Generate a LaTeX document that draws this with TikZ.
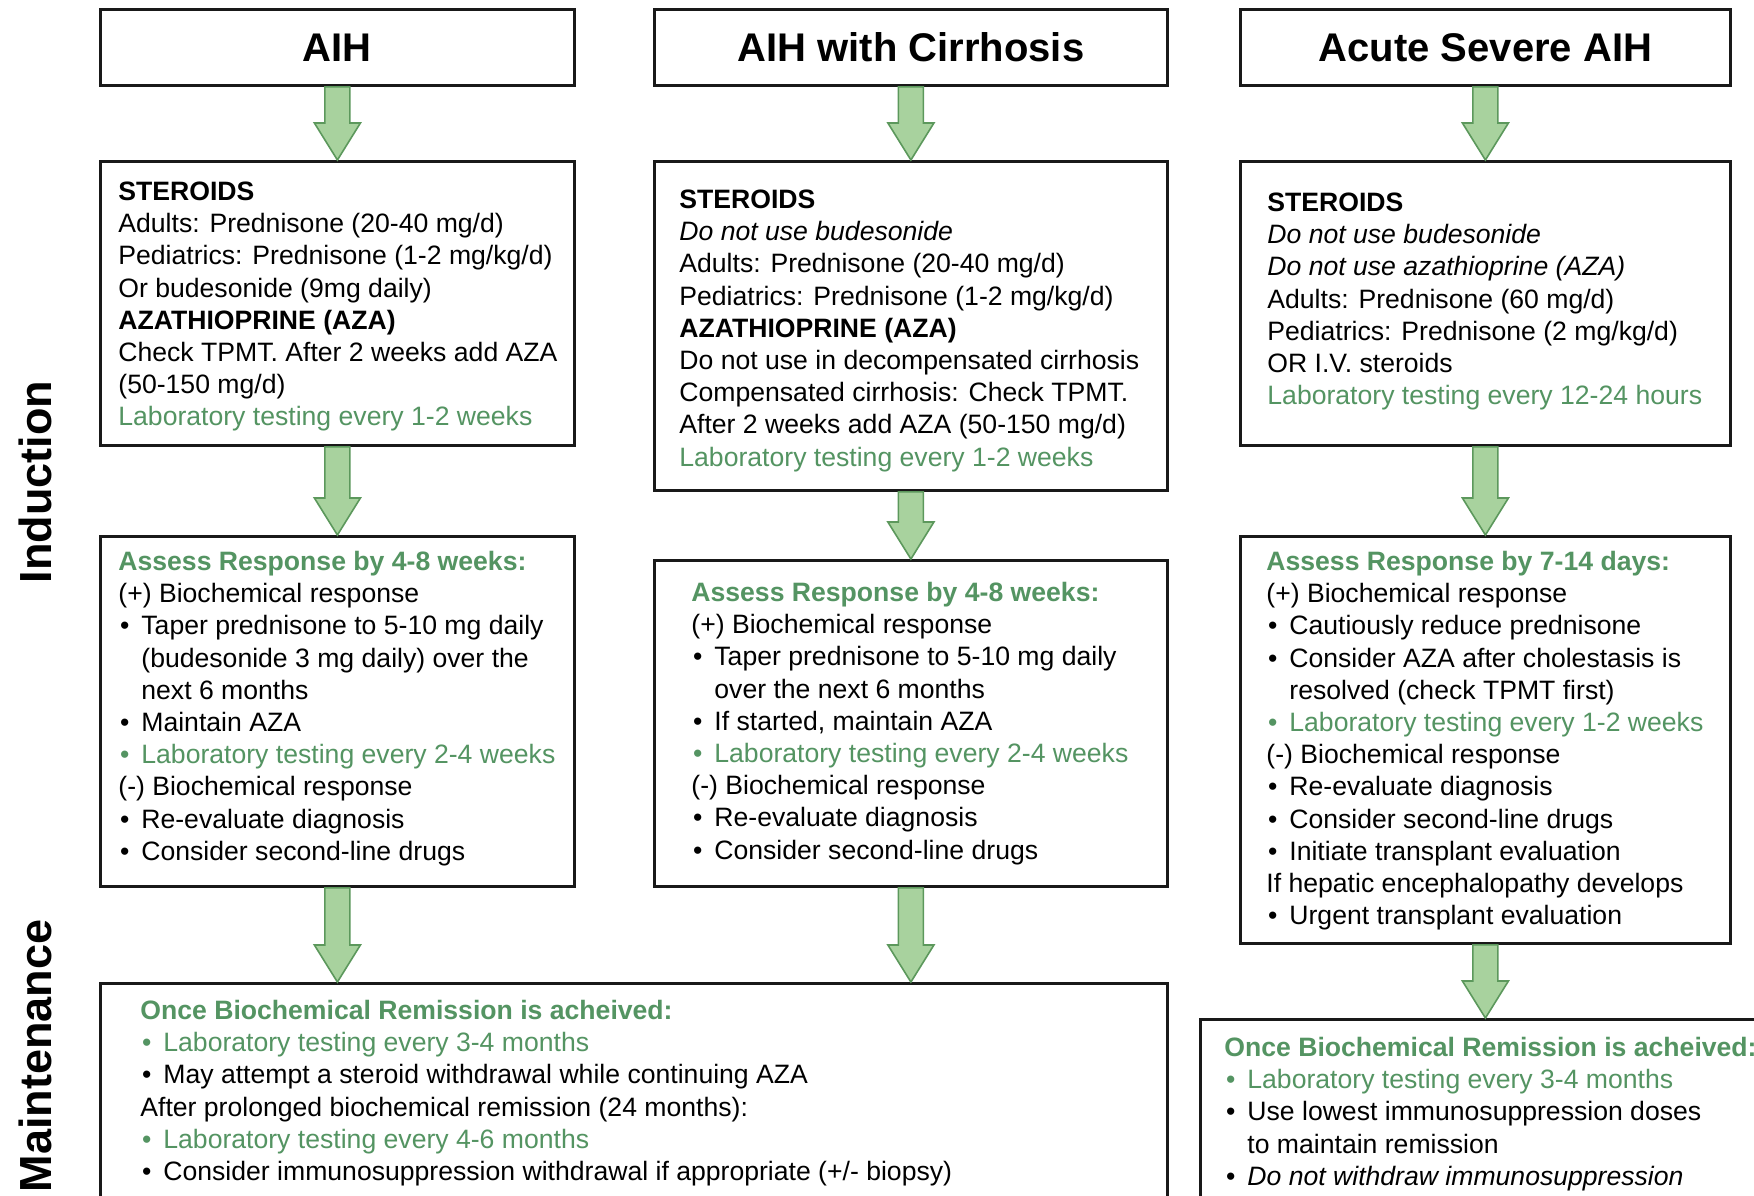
\documentclass[tikz,border=0pt]{standalone}
\usepackage{fontspec}
\setmainfont{Liberation Sans}
\usetikzlibrary{calc}
\definecolor{grtext}{RGB}{84,148,98}
\definecolor{arrfill}{RGB}{168,210,158}
\definecolor{arrdraw}{RGB}{92,152,92}
\definecolor{boxline}{RGB}{25,25,25}
\newcommand{\gr}[1]{\textcolor{grtext}{#1}}
\newcommand{\gb}[1]{\textcolor{grtext}{\bfseries #1}}
\newcommand{\bu}{\makebox[11.5pt][l]{\hspace{0.8pt}\textbullet}}
\newcommand{\ind}{\hspace*{11.5pt}}
\newcommand{\bxt}[5]{\parbox[t][#2][t]{#1}{\fontsize{13.3}{16.1}\selectfont\raggedright\leftskip=#3\relax\rightskip=-30pt plus 1fil\relax\rule{0pt}{#4}#5}}
\newcommand{\barrow}[2]{\filldraw[arr] let \p1=(#1.south), \p2=(#1.south |- #2.north) in
  (\x1-6.25pt,\y1) -- (\x1+6.25pt,\y1) -- (\x1+6.25pt,\y2+18.5pt) -- (\x1+11.5pt,\y2+18.5pt)
  -- (\x1,\y2) -- (\x1-11.5pt,\y2+18.5pt) -- (\x1-6.25pt,\y2+18.5pt) -- cycle;}
\begin{document}
\begin{tikzpicture}[x=0.5pt,y=-0.5pt,
  title/.style={draw=boxline, line width=1.4pt, fill=white, anchor=north west, inner sep=0pt,
    minimum height=38pt, font=\fontsize{20}{24}\selectfont\bfseries},
  bx/.style={draw=boxline, line width=1.4pt, fill=white, anchor=north west, inner sep=0pt},
  arr/.style={fill=arrfill, draw=arrdraw, line width=0.8pt, line join=miter},
  lab/.style={rotate=90, inner sep=0pt, font=\fontsize{22.5}{27}\selectfont\bfseries}]
\useasboundingbox (0,0) rectangle (1754,1195);
\clip (0,0) rectangle (1754,1195);
\fill[white] (0,0) rectangle (1754,1195);

\node[lab] (ind) at (35,482) {Induction};
\node[lab] (mnt) at (35,1056) {Maintenance};

\node[title, minimum width=237pt] (t1) at (99,8) {AIH};
\node[title, minimum width=256.5pt] (t2) at (653,8) {AIH with Cirrhosis};
\node[title, minimum width=245pt] (t3) at (1239,8) {Acute Severe AIH};

\node[bx] (s1) at (99,160) {\bxt{237pt}{142pt}{9pt}{19.5pt}{%
\textbf{STEROIDS}\\
Adults: Prednisone (20-40 mg/d)\\
Pediatrics: Prednisone (1-2 mg/kg/d)\\
Or budesonide (9mg daily)\\
\textbf{AZATHIOPRINE (AZA)}\\
Check TPMT. After 2 weeks add AZA\\
(50-150 mg/d)\\
\gr{Laboratory testing every 1-2 weeks}}};

\node[bx] (s2) at (653,160) {\bxt{256.5pt}{164.5pt}{12.5pt}{23.5pt}{%
\textbf{STEROIDS}\\
\textit{Do not use budesonide}\\
Adults: Prednisone (20-40 mg/d)\\
Pediatrics: Prednisone (1-2 mg/kg/d)\\
\textbf{AZATHIOPRINE (AZA)}\\
Do not use in decompensated cirrhosis\\
Compensated cirrhosis: Check TPMT.\\
After 2 weeks add AZA (50-150 mg/d)\\
\gr{Laboratory testing every 1-2 weeks}}};

\node[bx] (s3) at (1239,160) {\bxt{245pt}{142pt}{13.5pt}{25pt}{%
\textbf{STEROIDS}\\
\textit{Do not use budesonide}\\
\textit{Do not use azathioprine (AZA)}\\
Adults: Prednisone (60 mg/d)\\
Pediatrics: Prednisone (2 mg/kg/d)\\
OR I.V. steroids\\
\gr{Laboratory testing every 12-24 hours}}};

\node[bx] (a1) at (99,535) {\bxt{237pt}{175pt}{9pt}{17pt}{%
\gb{Assess Response by 4-8 weeks:}\\
(+) Biochemical response\\
\bu Taper prednisone to 5-10 mg daily\\
\ind (budesonide 3 mg daily) over the\\
\ind next 6 months\\
\bu Maintain AZA\\
\gr{\bu Laboratory testing every 2-4 weeks}\\
(-) Biochemical response\\
\bu Re-evaluate diagnosis\\
\bu Consider second-line drugs}};

\node[bx] (a2) at (653,559) {\bxt{256.5pt}{163pt}{18.5pt}{20.5pt}{%
\gb{Assess Response by 4-8 weeks:}\\
(+) Biochemical response\\
\bu Taper prednisone to 5-10 mg daily\\
\ind over the next 6 months\\
\bu If started, maintain AZA\\
\gr{\bu Laboratory testing every 2-4 weeks}\\
(-) Biochemical response\\
\bu Re-evaluate diagnosis\\
\bu Consider second-line drugs}};

\node[bx] (a3) at (1239,535) {\bxt{245pt}{203.5pt}{13pt}{17pt}{%
\gb{Assess Response by 7-14 days:}\\
(+) Biochemical response\\
\bu Cautiously reduce prednisone\\
\bu Consider AZA after cholestasis is\\
\ind resolved (check TPMT first)\\
\gr{\bu Laboratory testing every 1-2 weeks}\\
(-) Biochemical response\\
\bu Re-evaluate diagnosis\\
\bu Consider second-line drugs\\
\bu Initiate transplant evaluation\\
If hepatic encephalopathy develops\\
\bu Urgent transplant evaluation}};

\node[bx] (m1) at (99,982) {\bxt{533.5pt}{150pt}{20pt}{18pt}{%
\gb{Once Biochemical Remission is acheived:}\\
\gr{\bu Laboratory testing every 3-4 months}\\
\bu May attempt a steroid withdrawal while continuing AZA\\
After prolonged biochemical remission (24 months):\\
\gr{\bu Laboratory testing every 4-6 months}\\
\bu Consider immunosuppression withdrawal if appropriate (+/- biopsy)}};

\node[bx] (m2) at (1199,1018) {\bxt{300pt}{150pt}{12pt}{18.5pt}{%
\gb{Once Biochemical Remission is acheived:}\\
\gr{\bu Laboratory testing every 3-4 months}\\
\bu Use lowest immunosuppression doses\\
\ind to maintain remission\\
\bu \textit{Do not withdraw immunosuppression}}};

\barrow{t1}{s1}
\barrow{t2}{s2}
\barrow{t3}{s3}
\barrow{s1}{a1}
\barrow{s2}{a2}
\barrow{s3}{a3}
\barrow{a1}{m1}
\barrow{a2}{m1}
\barrow{a3}{m2}
\end{tikzpicture}
\end{document}
